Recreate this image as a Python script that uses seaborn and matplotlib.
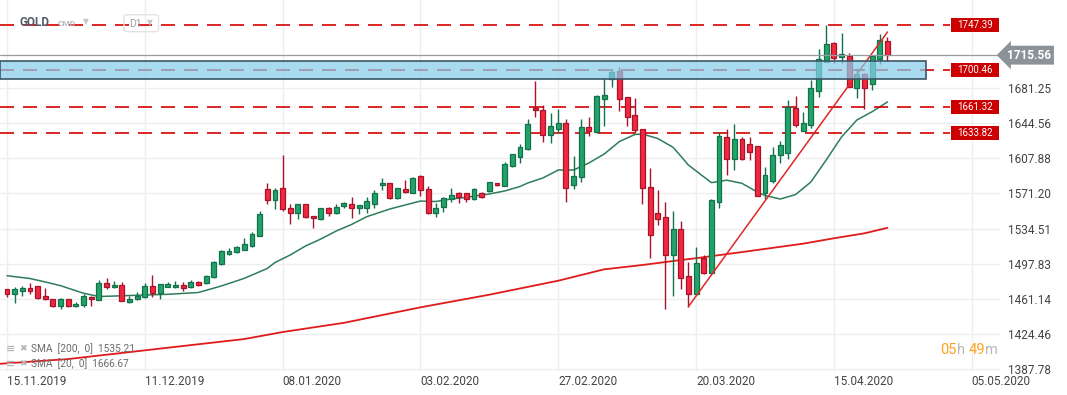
import numpy as np
import pandas as pd
import seaborn as sns
import matplotlib.pyplot as plt
import matplotlib.transforms as mtransforms
from matplotlib.patches import Rectangle, FancyBboxPatch

# daily candles, one per trading day starting 15.11.2019
opens = [1471.0, 1466.5, 1468.9, 1472.0, 1474.5, 1464.0, 1460.5, 1453.2, 1460.5, 1453.2,
         1454.3, 1463.0, 1460.2, 1477.3, 1473.1, 1475.2, 1457.4, 1460.5, 1462.6, 1474.5,
         1467.5, 1473.8, 1473.1, 1475.2, 1473.1, 1478.3, 1477.3, 1483.5, 1497.1, 1508.2,
         1509.6, 1512.4, 1515.9, 1527.0, 1575.4, 1563.9, 1576.5, 1555.6, 1550.4, 1559.8,
         1547.2, 1544.1, 1555.6, 1550.4, 1557.7, 1559.8, 1556.3, 1556.3, 1560.4, 1579.6,
         1581.7, 1566.4, 1575.4, 1571.9, 1589.4, 1575.4, 1551.1, 1557.0, 1565.0, 1571.9,
         1571.3, 1565.0, 1571.6, 1574.0, 1581.7, 1579.3, 1599.8, 1609.5, 1617.2, 1660.0,
         1658.3, 1632.5, 1638.8, 1644.4, 1580.3, 1588.0, 1640.2, 1635.0, 1670.1, 1690.7,
         1699.0, 1671.5, 1653.1, 1638.1, 1577.5, 1550.4, 1546.2, 1507.2, 1533.7, 1484.6,
         1465.8, 1503.4, 1487.7, 1562.5, 1629.7, 1607.5, 1627.7, 1622.4, 1620.3, 1571.9,
         1584.5, 1611.0, 1613.7, 1660.0, 1636.7, 1643.0, 1677.8, 1708.8, 1727.9, 1713.3,
         1714.7, 1681.6, 1695.9, 1685.8, 1711.9, 1730.3]
highs = [1471.7, 1473.4, 1474.5, 1477.3, 1474.8, 1472.0, 1460.9, 1461.6, 1460.9, 1457.8,
         1465.8, 1464.0, 1480.4, 1482.8, 1479.3, 1478.6, 1464.0, 1467.9, 1477.3, 1486.0,
         1476.6, 1478.6, 1479.7, 1478.6, 1480.7, 1479.7, 1485.9, 1500.2, 1512.1, 1514.2,
         1515.9, 1524.6, 1530.5, 1552.8, 1582.0, 1576.8, 1611.3, 1559.8, 1560.1, 1560.1,
         1547.6, 1556.3, 1556.6, 1559.8, 1562.2, 1567.4, 1559.1, 1567.1, 1574.7, 1586.9,
         1582.0, 1577.2, 1585.2, 1588.7, 1590.4, 1578.9, 1561.5, 1567.8, 1576.8, 1572.6,
         1571.9, 1577.2, 1572.3, 1583.4, 1582.4, 1603.6, 1612.7, 1622.4, 1648.5, 1688.6,
         1663.5, 1654.8, 1659.0, 1648.5, 1610.2, 1648.5, 1651.3, 1673.6, 1691.7, 1701.1,
         1702.8, 1671.5, 1670.5, 1638.4, 1597.7, 1574.7, 1562.2, 1552.8, 1542.4, 1499.2,
         1515.2, 1506.9, 1565.3, 1635.3, 1638.4, 1643.7, 1630.1, 1630.1, 1620.3, 1598.4,
         1619.6, 1626.2, 1668.7, 1672.5, 1656.2, 1689.6, 1722.0, 1747.0, 1729.6, 1739.0,
         1718.2, 1701.8, 1696.6, 1715.4, 1737.6, 1734.9]
lows = [1462.6, 1456.4, 1464.4, 1465.8, 1461.2, 1460.2, 1452.9, 1450.1, 1452.2, 1452.9,
        1452.2, 1453.2, 1459.5, 1471.0, 1472.7, 1458.5, 1457.1, 1459.5, 1462.3, 1463.3,
        1461.2, 1473.1, 1472.7, 1469.6, 1472.7, 1474.5, 1476.6, 1482.8, 1496.4, 1507.2,
        1509.3, 1512.1, 1515.5, 1526.7, 1560.4, 1555.2, 1552.4, 1539.6, 1544.8, 1545.8,
        1535.4, 1543.7, 1547.6, 1549.7, 1555.6, 1545.8, 1549.7, 1551.0, 1556.3, 1575.1,
        1565.0, 1565.7, 1571.9, 1571.3, 1568.8, 1549.3, 1546.9, 1552.1, 1562.2, 1561.5,
        1562.5, 1564.3, 1566.0, 1573.0, 1578.9, 1578.9, 1599.1, 1603.3, 1616.5, 1650.6,
        1624.5, 1624.2, 1634.6, 1562.6, 1575.4, 1583.4, 1631.1, 1634.6, 1641.9, 1682.6,
        1657.2, 1641.6, 1634.6, 1560.5, 1503.7, 1538.2, 1450.5, 1464.0, 1471.4, 1452.9,
        1465.1, 1486.7, 1486.7, 1556.3, 1590.8, 1595.6, 1606.1, 1606.1, 1568.8, 1565.7,
        1581.7, 1603.3, 1607.1, 1640.9, 1636.4, 1639.8, 1671.9, 1708.8, 1707.7, 1707.7,
        1682.0, 1670.8, 1659.0, 1679.2, 1706.7, 1709.5]
closes = [1465.8, 1471.0, 1472.0, 1469.6, 1462.3, 1460.5, 1453.2, 1460.5, 1453.2, 1455.7,
          1464.0, 1460.5, 1477.3, 1473.1, 1475.2, 1459.2, 1461.2, 1464.0, 1474.5, 1467.5,
          1476.2, 1476.6, 1475.2, 1472.7, 1478.3, 1475.5, 1484.9, 1499.2, 1510.7, 1510.7,
          1515.2, 1518.0, 1528.4, 1549.3, 1563.9, 1574.7, 1554.5, 1550.4, 1559.8, 1546.9,
          1545.1, 1555.6, 1551.0, 1556.6, 1561.1, 1556.3, 1558.7, 1563.2, 1571.2, 1582.0,
          1566.0, 1576.5, 1572.6, 1586.9, 1575.1, 1550.4, 1555.6, 1566.7, 1569.9, 1567.8,
          1565.0, 1575.4, 1567.1, 1582.7, 1579.6, 1601.5, 1612.0, 1619.3, 1643.3, 1657.9,
          1632.5, 1641.6, 1644.7, 1577.2, 1589.4, 1640.2, 1636.0, 1672.9, 1673.9, 1698.3,
          1670.1, 1651.3, 1637.0, 1576.5, 1528.1, 1544.8, 1507.2, 1533.7, 1483.2, 1465.8,
          1498.2, 1487.7, 1563.9, 1631.1, 1607.5, 1627.7, 1606.8, 1614.8, 1568.8, 1590.4,
          1611.0, 1621.4, 1661.1, 1643.0, 1644.4, 1680.9, 1711.2, 1727.2, 1713.0, 1716.8,
          1682.6, 1695.9, 1681.6, 1714.7, 1731.0, 1715.56]

# moving averages (bar index, value)
sma20_idx = [0, 3, 5, 7, 10, 12, 14, 17, 21, 25, 28, 31, 34, 35, 37, 39, 41, 43, 45, 47,
             50, 54, 56, 58, 60, 63, 65, 67, 68, 70, 72, 74, 76, 78, 80, 82, 83, 85, 87, 88,
             89, 92, 94, 96, 98, 99, 101, 103, 105, 107, 109, 111, 113, 115]
sma20_val = [1485.2, 1482.3, 1478.7, 1474.8, 1466.9, 1463.5, 1464.0, 1464.8, 1465.8, 1467.7,
             1474.5, 1482.5, 1492.8, 1499.0, 1506.9, 1516.3, 1523.6, 1531.9, 1538.7, 1546.9,
             1554.9, 1563.2, 1562.7, 1565.3, 1567.1, 1570.6, 1573.7, 1578.4, 1582.0, 1587.3,
             1595.6, 1595.6, 1602.9, 1612.3, 1625.4, 1632.7, 1633.2, 1628.5, 1619.3, 1610.2,
             1600.8, 1582.4, 1585.0, 1581.7, 1572.6, 1569.0, 1565.3, 1570.0, 1583.1, 1606.1,
             1630.1, 1647.8, 1656.5, 1666.67]
sma200_idx = [-1, 8, 20, 31, 36, 44, 54, 63, 72, 78, 83, 88, 90, 97, 104, 108, 112, 115]
sma200_val = [1393.2, 1398.2, 1409.1, 1419.1, 1426.4, 1436.0, 1452.2, 1465.4, 1480.0, 1491.9,
              1496.4, 1501.6, 1503.5, 1511.0, 1518.7, 1524.3, 1529.5, 1535.21]

trend_idx = [89, 115]
trend_val = [1452.9, 1739.7]
levels = [1747.39, 1700.46, 1661.32, 1633.82]
last_price = 1715.56
zone_low, zone_high = 1690.3, 1709.1
zone_end = 120
date_pos = [0, 18, 36, 54, 72, 90, 108, 126]
date_labels = ['15.11.2019', '11.12.2019', '08.01.2020', '03.02.2020',
               '27.02.2020', '20.03.2020', '15.04.2020', '05.05.2020']
price_ticks = [1387.78, 1424.46, 1461.14, 1497.83, 1534.51, 1571.20, 1607.88, 1644.56, 1681.25]

sns.set_style('white')
plt.rcParams['font.family'] = ['Roboto', 'DejaVu Sans']

W, H = 1067, 395
fig = plt.figure(figsize=(W / 100, H / 100), dpi=100)
ax = fig.add_axes([0, 23 / H, 1000 / W, 372 / H])

df = pd.DataFrame({'o': opens, 'h': highs, 'l': lows, 'c': closes})
df['i'] = np.arange(len(df))
up = df['c'] >= df['o']

green, green_edge = '#22a468', '#12714a'
red, red_edge = '#f2283e', '#a8132b'

u = df[up]
d = df[~up]
ax.vlines(u['i'], u['l'], u['h'], color=green_edge, lw=1, zorder=3)
ax.vlines(d['i'], d['l'], d['h'], color=red_edge, lw=1, zorder=3)
ax.bar(u['i'], (u['c'] - u['o']).clip(lower=0.8), bottom=u['o'], width=0.64,
       color=green, edgecolor=green_edge, lw=0.9, zorder=4)
ax.bar(d['i'], (d['o'] - d['c']).clip(lower=0.8), bottom=d['c'], width=0.64,
       color=red, edgecolor=red_edge, lw=0.9, zorder=4)

sns.lineplot(x=sma200_idx, y=sma200_val, ax=ax, color='#e01b1b', lw=1.3, zorder=2)
sns.lineplot(x=sma20_idx, y=sma20_val, ax=ax, color='#2e7d5a', lw=1.1, zorder=2)
ax.plot(trend_idx, trend_val, color='#e02626', lw=1.1, zorder=5)

xmin, xmax = -0.914, 129.7
ax.set_xlim(xmin, xmax)
ax.set_ylim(1384.67, 1773.15)

# horizontal levels with their red tags
trans = mtransforms.blended_transform_factory(ax.transAxes, ax.transData)
for lv in levels:
    ax.axhline(lv, xmin=0, xmax=0.95, color='#d40000', lw=1.2, ls=(0, (8.4, 5.4)), zorder=2)
    ax.add_patch(Rectangle((0.951, lv - 7.3), 0.048, 14.6, transform=trans,
                           fc='#cc0000', ec='none', zorder=8))
    ax.text(0.975, lv, f'{lv:.2f}', transform=trans, ha='center', va='center',
            color='white', fontsize=7, zorder=9)

ax.add_patch(Rectangle((xmin, zone_low), zone_end - xmin, zone_high - zone_low,
                       fc=(0.53, 0.80, 0.92, 0.72), ec='#3c5665', lw=1.2, zorder=6))

ax.axhline(last_price, color='#959b9f', lw=0.9, zorder=5)
ax.text(1.007, last_price, f'{last_price:.2f}', transform=trans, ha='left', va='center',
        color='white', fontsize=8.5, fontweight='bold', clip_on=False, zorder=10,
        bbox=dict(boxstyle='larrow,pad=0.25', fc='#8b9398', ec='none'))

ax.set_yticks(price_ticks)
ax.set_yticklabels([f'{v:.2f}' for v in price_ticks])
ax.yaxis.tick_right()
ax.set_xticks(date_pos)
ax.set_xticklabels(date_labels)
for lab in ax.get_xticklabels():
    lab.set_ha('left')
ax.tick_params(axis='y', length=0, pad=6, labelsize=8.5, labelcolor='#444444')
ax.tick_params(axis='x', length=0, pad=2, labelsize=8.5, labelcolor='#444444')
ax.grid(True, color='#eeeeee', lw=1)
ax.set_axisbelow(True)
for s in ax.spines.values():
    s.set_visible(False)


def fx(px):
    return px / W


def fy(py):
    return 1 - py / H


# header
fig.text(fx(20), fy(23), 'GOLD', fontsize=8.5, fontweight='bold', color='#505a64', va='center')
fig.text(fx(58), fy(24), 'CMD', fontsize=6, fontweight='bold', color='#b5bcc4', va='center')
fig.text(fx(83), fy(22), '▼', fontsize=5.5, color='#c4c8cc', va='center')
fig.add_artist(FancyBboxPatch((fx(124), fy(31.7)), 34.5 / W, 17 / H,
                              boxstyle='round,pad=0,rounding_size=0.004',
                              transform=fig.transFigure, fc='none', ec='#e3e3e3', lw=1))
fig.text(fx(129), fy(24), 'D1', fontsize=7.5, color='#9aa0a6', va='center')
fig.text(fx(147), fy(22.5), '▼', fontsize=5.5, color='#c4c8cc', va='center')

# indicator legend
for row, txt in zip([349, 364], ['SMA  [200,  0]  1535.21', 'SMA  [20,  0]  1666.67']):
    fig.text(fx(6), fy(row), '≡', fontsize=8, fontweight='bold', color='#b4b4b4', va='center')
    fig.text(fx(19), fy(row), '✖', fontsize=6.5, color='#b4b4b4', va='center')
    fig.text(fx(31), fy(row), txt, fontsize=7.3, color='#6b6b6b', va='center')

# countdown
orange, grey = '#ffa21e', '#b8b8b8'
fig.text(fx(940.5), fy(350), '05', fontsize=10.5, color=orange, va='center')
fig.text(fx(956.5), fy(350), 'h', fontsize=10.5, color=grey, va='center')
fig.text(fx(969), fy(350), '49', fontsize=10.5, color=orange, va='center')
fig.text(fx(985.5), fy(350), 'm', fontsize=10.5, color=grey, va='center')

fig.savefig('out.png', dpi=100)
